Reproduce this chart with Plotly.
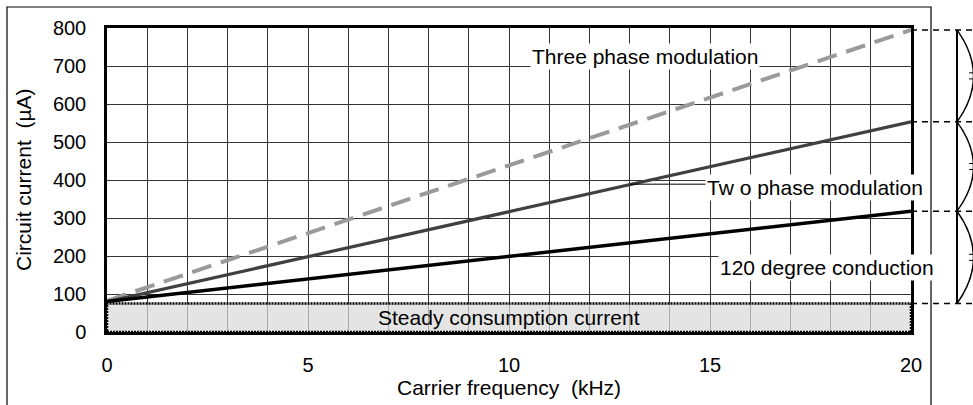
import plotly.graph_objects as go

# Carrier frequency (kHz) at the two ends of each characteristic line
freq_khz = [0, 20]
# Circuit current (µA) for each drive method
three_phase = [82, 795]
two_phase = [80, 553]
conduction_120 = [80, 318]
# Constant part of the current
steady_current = 75

x_tick_vals = [0, 5, 10, 15, 20]
x_tick_text = ["0", "5", "10", "15", "20"]
y_tick_vals = [0, 100, 200, 300, 400, 500, 600, 700, 800]
y_tick_text = ["0", "100", "200", "300", "400", "500", "600", "700", "800"]

FONT = "Liberation Sans, Arial, sans-serif"
GRID = "#333333"

fig = go.Figure()

fig.add_trace(go.Scatter(
    x=freq_khz, y=three_phase, mode="lines",
    line=dict(color="#9a9a9a", width=4, dash="20px,10px"), showlegend=False))
fig.add_trace(go.Scatter(
    x=freq_khz, y=two_phase, mode="lines",
    line=dict(color="#404040", width=3.2), showlegend=False))
fig.add_trace(go.Scatter(
    x=freq_khz, y=conduction_120, mode="lines",
    line=dict(color="#000000", width=3.5), showlegend=False))

shapes = []
# steady consumption band
shapes.append(dict(
    type="rect", xref="x", yref="y", x0=freq_khz[0], x1=freq_khz[-1],
    y0=0, y1=steady_current, layer="above",
    fillcolor="rgba(218,218,218,0.72)",
    line=dict(color="#000000", width=2.5, dash="2px,1px")))

# outer frame around the figure
shapes.append(dict(
    type="rect", xref="paper", yref="paper",
    x0=-0.1244, x1=1.0249, y0=-0.4, y1=1.069,
    line=dict(color="#000000", width=1.2), layer="below"))

# dashed level markers to the right of the plot, from each line's end value
levels = [three_phase[-1], two_phase[-1], conduction_120[-1], steady_current]
for lv in levels:
    shapes.append(dict(
        type="line", xref="paper", yref="y", x0=1.0, x1=1.08, y0=lv, y1=lv,
        line=dict(color="#000000", width=1.5, dash="6px,5px")))

# bracket with braces between successive levels
bx = 1.0572
shapes.append(dict(
    type="line", xref="paper", yref="y", x0=bx, x1=bx,
    y0=levels[-1], y1=levels[0], line=dict(color="#000000", width=2)))
for top, bot in zip(levels[:-1], levels[1:]):
    mid = (top + bot) / 2
    shapes.append(dict(
        type="path", xref="paper", yref="y",
        path=f"M {bx},{top} Q 1.0983,{mid} {bx},{bot}",
        line=dict(color="#000000", width=1.5)))
    for dy in (-8, 8):
        shapes.append(dict(
            type="line", xref="paper", yref="y",
            x0=1.0722, x1=1.085, y0=mid + dy, y1=mid + dy,
            line=dict(color="#000000", width=1)))

# leader line from the two phase curve to its label
shapes.append(dict(
    type="line", xref="x", yref="y", x0=13.0, x1=15.0, y0=389, y1=389,
    line=dict(color="#000000", width=1)))

fig.update_layout(shapes=shapes)

annotations = [
    dict(x=13.38, y=724, text="Three phase modulation"),
    dict(x=17.61, y=379, text="Tw o phase modulation"),
    dict(x=17.9, y=171, text="120 degree conduction"),
]
for a in annotations:
    fig.add_annotation(
        x=a["x"], y=a["y"], xref="x", yref="y", text=a["text"],
        showarrow=False, bgcolor="#ffffff", borderpad=1,
        font=dict(family=FONT, size=21, color="#000000"))

fig.add_annotation(
    x=10, y=steady_current / 2, xref="x", yref="y",
    text="Steady consumption current", showarrow=False,
    font=dict(family=FONT, size=21, color="#000000"))

# axis titles
fig.add_annotation(
    x=-0.1045, y=0.5, xref="paper", yref="paper", textangle=-90,
    xanchor="center", yanchor="middle",
    text="Circuit current  (µA)", showarrow=False,
    font=dict(family=FONT, size=21, color="#000000"))
fig.add_annotation(
    x=0.5, y=-0.182, xref="paper", yref="paper",
    xanchor="center", yanchor="middle",
    text="Carrier frequency  (kHz)", showarrow=False,
    font=dict(family=FONT, size=21, color="#000000"))

fig.update_xaxes(
    range=[0, 20], tickvals=x_tick_vals, ticktext=x_tick_text,
    showgrid=True, gridcolor=GRID, gridwidth=1,
    minor=dict(dtick=1, showgrid=True, gridcolor=GRID, gridwidth=1),
    showline=True, linecolor="#000000", linewidth=2.5, mirror=True,
    ticks="", ticklabelstandoff=13, zeroline=False,
    tickfont=dict(family=FONT, size=20, color="#000000"))
fig.update_yaxes(
    range=[0, 800], tickvals=y_tick_vals, ticktext=y_tick_text,
    showgrid=True, gridcolor=GRID, gridwidth=1,
    showline=True, linecolor="#000000", linewidth=2.5, mirror=True,
    ticks="", ticklabelstandoff=14, zeroline=False,
    tickfont=dict(family=FONT, size=20, color="#000000"))

fig.update_layout(
    width=973, height=405,
    margin=dict(l=107, r=62, t=28, b=73),
    paper_bgcolor="#ffffff", plot_bgcolor="#ffffff",
    font=dict(family=FONT),
)

fig.write_html("out.html")
